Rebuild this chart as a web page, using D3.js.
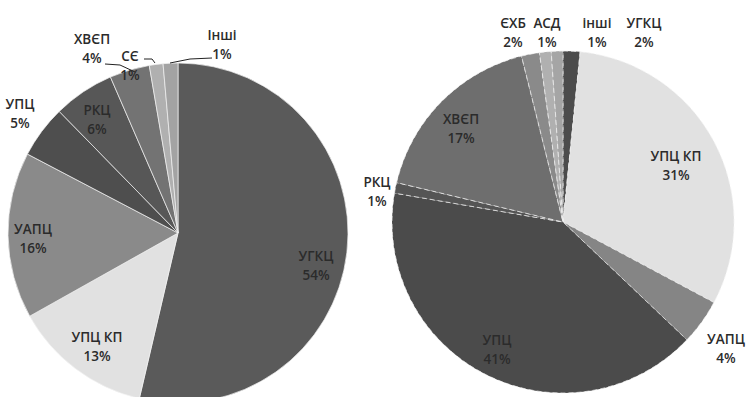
<!DOCTYPE html>
<html><head><meta charset="utf-8">
<script src="https://cdn.jsdelivr.net/npm/d3@7"></script>
<style>
html,body{margin:0;padding:0;background:#fff;}
svg{display:block;}
text{font-family:"Open Sans","Noto Sans",sans-serif;font-size:13.5px;font-weight:600;fill:#2b2b2b;}
</style></head>
<body>
<script>
// ---- data ----
const leftCategories = ["УГКЦ","УПЦ КП","УАПЦ","УПЦ","РКЦ","ХВЄП","СЄ","Інші"];
const leftValues     = [53.6, 13.2, 15.8, 5.0, 5.8, 3.8, 1.3, 1.4];
const leftColors     = ["#5a5a5a","#e1e1e1","#8a8a8a","#4e4e4e","#575757","#737373","#b0b0b0","#a3a3a3"];

const rightCategories = ["УГКЦ","УПЦ КП","УАПЦ","УПЦ","РКЦ","ХВЄП","ЄХБ","АСД","інші"];
const rightValues     = [1.6, 31.2, 4.3, 40.6, 1.0, 17.4, 1.7, 1.1, 1.1];
const rightColors     = ["#4c4c4c","#e1e1e1","#858585","#4b4b4b","#555555","#6e6e6e","#8a8a8a","#b0b0b0","#a5a5a5"];

// ---- layout (label offsets from pie centre, leader lines, separator style) ----
const leftLayout = {cx:178, cy:233, r:170, dash:null,
  labels:[[138,31],[-81,112],[-145,4],[-158,-121],[-81,-115],[-86,-186],[-48,-169],[44,-190]],
  leaders:{5:[[-73,-169],[-58,-168],[-43,-161]], 6:[[-34,-174],[-26,-174],[-23,-170]], 7:[[34,-175],[12,-174],[-8,-170]]}
};
const rightLayout = {cx:563, cy:222, r:171, dash:"5,3",
  labels:[[81,-191],[113,-58],[163,125],[-66,126],[-186,-32],[-102,-95],[-50,-191],[-16,-191],[34,-191]],
  leaders:{}
};

const svg = d3.select("body").append("svg").attr("width",748).attr("height",397);

function drawPie(cats, vals, cols, L){
  const pie = d3.pie().sort(null).value(d=>d)(vals);
  const arc = d3.arc().innerRadius(0).outerRadius(L.r);
  const color = d3.scaleOrdinal().domain(cats).range(cols);
  const g = svg.append("g").attr("transform",`translate(${L.cx},${L.cy})`);
  g.selectAll("path").data(pie).join("path")
    .attr("d",arc)
    .attr("fill",(d,i)=>color(cats[i]))
    .attr("stroke","#f2f2f2").attr("stroke-width",0.7)
    .attr("stroke-dasharray",L.dash);
  const total = d3.sum(vals);
  const line = d3.line();
  Object.entries(L.leaders).forEach(([i,pts])=>{
    g.append("path").attr("d",line(pts)).attr("fill","none").attr("stroke","#222").attr("stroke-width",1);
  });
  pie.forEach((d,i)=>{
    const [x,y] = L.labels[i];
    const t = g.append("text").attr("text-anchor","middle").attr("x",x).attr("y",y);
    t.append("tspan").attr("x",x).attr("dy","-0.2em").text(cats[i]);
    t.append("tspan").attr("x",x).attr("dy","1.35em").text(Math.round(vals[i]/total*100)+"%");
  });
}
drawPie(leftCategories,leftValues,leftColors,leftLayout);
drawPie(rightCategories,rightValues,rightColors,rightLayout);
</script>
</body></html>
